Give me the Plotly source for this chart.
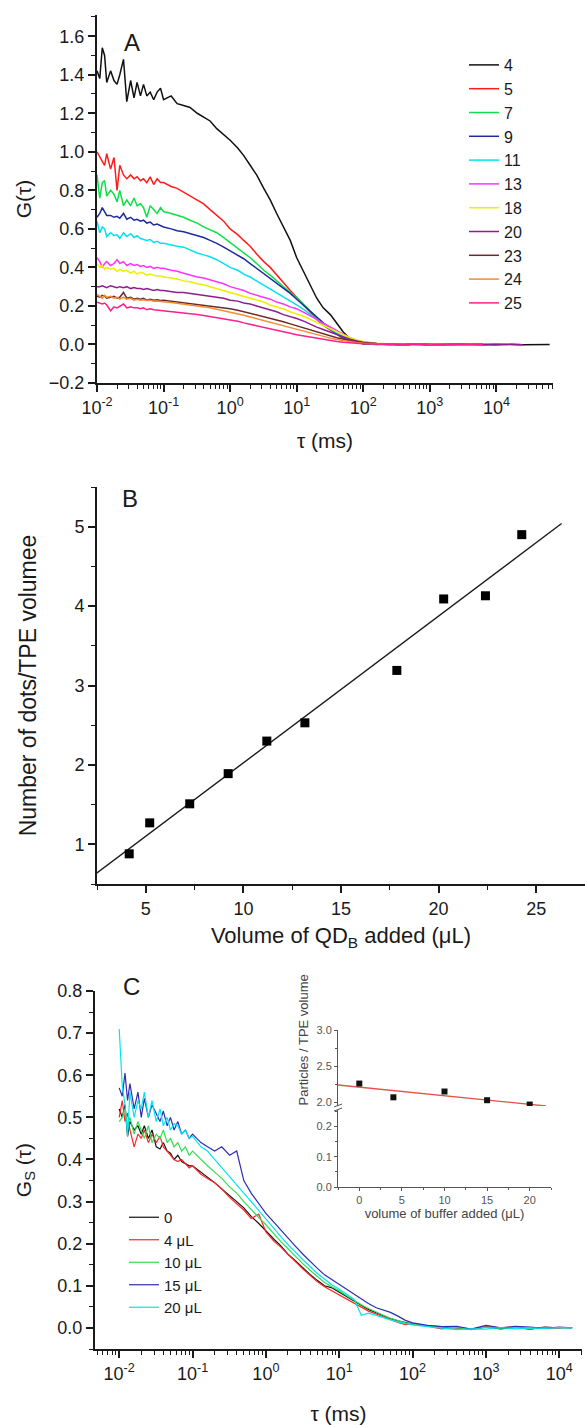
import plotly.graph_objects as go

# ---------------- Panel A data ----------------
tau_A = [0.010, 0.011, 0.012, 0.013, 0.014, 0.016, 0.018, 0.020, 0.022, 0.025,
         0.028, 0.032, 0.036, 0.040, 0.045, 0.050, 0.056, 0.063, 0.071, 0.080,
         0.090, 0.10, 0.13, 0.16, 0.20, 0.25, 0.32, 0.40, 0.50, 0.63,
         0.80, 1.0, 1.3, 1.6, 2.0, 2.5, 3.2, 4.0, 5.0, 6.3,
         8.0, 10, 13, 16, 20, 25, 32, 40, 50, 63,
         80, 100, 160, 250, 400, 630, 1000, 1600, 2500, 4000,
         6300, 10000, 16000, 25000, 40000, 63000]

G_4 = [1.42, 1.38, 1.54, 1.50, 1.36, 1.42, 1.37, 1.35, 1.40, 1.48,
       1.26, 1.37, 1.28, 1.36, 1.29, 1.35, 1.29, 1.31, 1.27, 1.31,
       1.33, 1.27, 1.29, 1.25, 1.24, 1.23, 1.20, 1.18, 1.16, 1.12,
       1.09, 1.06, 1.02, 0.98, 0.93, 0.88, 0.81, 0.75, 0.68, 0.61,
       0.54, 0.45, 0.37, 0.31, 0.24, 0.19, 0.155, 0.11, 0.065, 0.03,
       0.012, 0.004, 0.0, 0.002, -0.004, 0.003, -0.002, 0.002, -0.003, 0.001,
       0.002, -0.001, 0.001, -0.002, 0.0, 0.0]
G_5 = [1.00, 0.97, 0.95, 0.93, 0.99, 0.91, 0.97, 0.80, 0.93, 0.88,
       0.86, 0.88, 0.86, 0.87, 0.85, 0.86, 0.84, 0.87, 0.83, 0.86,
       0.84, 0.84, 0.82, 0.81, 0.79, 0.77, 0.75, 0.73, 0.70, 0.67,
       0.64, 0.60, 0.57, 0.54, 0.51, 0.47, 0.43, 0.40, 0.36, 0.32,
       0.28, 0.245, 0.20, 0.165, 0.13, 0.10, 0.075, 0.05, 0.03, 0.015,
       0.008, 0.004, 0.001, 0.002, -0.003, 0.004, -0.002, 0.003, -0.002, 0.003,
       0.0, None, None, None, None, None]
G_7 = [0.88, 0.76, 0.84, 0.85, 0.77, 0.80, 0.78, 0.74, 0.80, 0.72,
       0.75, 0.72, 0.76, 0.72, 0.73, 0.71, 0.66, 0.72, 0.70, 0.68,
       0.71, 0.69, 0.68, 0.67, 0.66, 0.645, 0.63, 0.61, 0.595, 0.58,
       0.555, 0.53, 0.50, 0.475, 0.45, 0.42, 0.385, 0.36, 0.33, 0.30,
       0.27, 0.245, 0.205, 0.17, 0.14, 0.11, 0.08, 0.055, 0.035, 0.02,
       0.01, 0.005, 0.002, 0.0, 0.003, -0.002, 0.002, -0.001, 0.002, 0.0,
       0.001, 0.0, None, None, None, None]
G_9 = [0.66, 0.68, 0.71, 0.69, 0.67, 0.67, 0.66, 0.665, 0.655, 0.68,
       0.65, 0.66, 0.645, 0.65, 0.64, 0.645, 0.63, 0.635, 0.62, 0.625,
       0.615, 0.61, 0.60, 0.59, 0.585, 0.575, 0.565, 0.555, 0.54, 0.525,
       0.505, 0.485, 0.465, 0.445, 0.42, 0.395, 0.37, 0.345, 0.32, 0.295,
       0.265, 0.235, 0.20, 0.17, 0.14, 0.11, 0.08, 0.055, 0.035, 0.02,
       0.01, 0.005, 0.002, -0.002, 0.003, 0.001, -0.003, 0.002, 0.0, 0.002,
       -0.001, 0.0, None, None, None, None]
G_11 = [0.64, 0.58, 0.61, 0.60, 0.56, 0.58, 0.565, 0.57, 0.55, 0.58,
        0.56, 0.575, 0.555, 0.565, 0.55, 0.545, 0.54, 0.545, 0.53, 0.535,
        0.525, 0.525, 0.515, 0.51, 0.505, 0.49, 0.475, 0.465, 0.455, 0.44,
        0.42, 0.40, 0.385, 0.365, 0.35, 0.33, 0.31, 0.29, 0.27, 0.25,
        0.225, 0.205, 0.18, 0.155, 0.13, 0.105, 0.08, 0.06, 0.04, 0.025,
        0.013, 0.006, 0.003, 0.0, 0.002, -0.002, 0.003, 0.0, -0.002, 0.002,
        0.0, None, None, None, None, None]
G_13 = [0.45, 0.43, 0.40, 0.42, 0.43, 0.41, 0.42, 0.44, 0.42, 0.43,
        0.41, 0.42, 0.41, 0.415, 0.405, 0.41, 0.40, 0.405, 0.395, 0.40,
        0.395, 0.395, 0.385, 0.38, 0.37, 0.36, 0.35, 0.345, 0.335, 0.325,
        0.315, 0.30, 0.29, 0.28, 0.265, 0.255, 0.245, 0.235, 0.22, 0.21,
        0.195, 0.185, 0.165, 0.15, 0.13, 0.11, 0.09, 0.07, 0.05, 0.035,
        0.022, 0.013, 0.005, 0.002, -0.002, 0.003, 0.0, -0.003, 0.002, 0.001,
        -0.002, 0.002, 0.0, -0.001, None, None]
G_18 = [0.42, 0.40, 0.41, 0.39, 0.40, 0.39, 0.395, 0.38, 0.39, 0.38,
        0.385, 0.37, 0.38, 0.365, 0.375, 0.37, 0.36, 0.365, 0.36, 0.355,
        0.355, 0.35, 0.345, 0.34, 0.33, 0.325, 0.315, 0.31, 0.30, 0.29,
        0.28, 0.27, 0.26, 0.25, 0.24, 0.23, 0.22, 0.205, 0.195, 0.185,
        0.17, 0.16, 0.145, 0.13, 0.115, 0.10, 0.083, 0.066, 0.05, 0.035,
        0.023, 0.014, 0.006, 0.002, -0.002, 0.002, 0.0, 0.002, -0.002, 0.001,
        0.0, -0.001, 0.001, None, None, None]
G_20 = [0.30, 0.30, 0.305, 0.30, 0.295, 0.305, 0.30, 0.295, 0.30, 0.295,
        0.30, 0.29, 0.295, 0.29, 0.29, 0.285, 0.29, 0.285, 0.28, 0.285,
        0.28, 0.28, 0.275, 0.27, 0.27, 0.265, 0.26, 0.255, 0.25, 0.245,
        0.24, 0.23, 0.225, 0.215, 0.21, 0.20, 0.19, 0.18, 0.17, 0.155,
        0.145, 0.135, 0.12, 0.105, 0.09, 0.078, 0.065, 0.05, 0.038, 0.027,
        0.018, 0.011, 0.005, 0.002, -0.001, 0.002, -0.002, 0.001, 0.0, 0.002,
        -0.001, 0.001, 0.0, -0.001, None, None]
G_23 = [0.25, 0.245, 0.255, 0.25, 0.24, 0.245, 0.25, 0.24, 0.245, 0.27,
        0.24, 0.245, 0.235, 0.24, 0.235, 0.24, 0.23, 0.235, 0.23, 0.232,
        0.228, 0.23, 0.225, 0.22, 0.218, 0.215, 0.21, 0.205, 0.20, 0.195,
        0.19, 0.185, 0.178, 0.17, 0.163, 0.155, 0.147, 0.138, 0.128, 0.118,
        0.107, 0.097, 0.085, 0.074, 0.064, 0.054, 0.044, 0.035, 0.027, 0.02,
        0.014, 0.009, 0.004, 0.001, -0.002, 0.002, 0.0, -0.002, 0.001, 0.0,
        0.001, None, None, None, None, None]
G_24 = [0.26, 0.25, 0.24, 0.255, 0.245, 0.25, 0.24, 0.245, 0.235, 0.245,
        0.235, 0.24, 0.23, 0.235, 0.23, 0.232, 0.228, 0.23, 0.225, 0.226,
        0.222, 0.222, 0.218, 0.214, 0.21, 0.205, 0.20, 0.195, 0.19, 0.183,
        0.176, 0.168, 0.16, 0.152, 0.143, 0.134, 0.125, 0.115, 0.105, 0.096,
        0.086, 0.077, 0.067, 0.058, 0.049, 0.041, 0.033, 0.026, 0.02, 0.014,
        0.01, 0.006, 0.003, 0.001, -0.002, 0.002, -0.001, 0.001, 0.0, 0.001,
        0.0, None, None, None, None, None]
G_25 = [0.22, 0.215, 0.21, 0.215, 0.205, 0.175, 0.195, 0.19, 0.20, 0.21,
        0.19, 0.195, 0.19, 0.19, 0.185, 0.19, 0.18, 0.185, 0.18, 0.178,
        0.175, 0.177, 0.172, 0.168, 0.163, 0.16, 0.155, 0.15, 0.145, 0.14,
        0.133, 0.127, 0.12, 0.112, 0.105, 0.097, 0.089, 0.081, 0.073, 0.065,
        0.058, 0.05, 0.043, 0.036, 0.03, 0.024, 0.019, 0.015, 0.011, 0.008,
        0.006, 0.004, 0.002, 0.0, -0.002, 0.002, -0.003, 0.001, 0.002, -0.001,
        0.0, None, None, None, None, None]

names_A = ["4", "5", "7", "9", "11", "13", "18", "20", "23", "24", "25"]
series_A = [G_4, G_5, G_7, G_9, G_11, G_13, G_18, G_20, G_23, G_24, G_25]
colors_A = ["#111111", "#ff1c1c", "#0fe04a", "#1f2a9c", "#00e3ef", "#ff33ff",
            "#eeee00", "#8c1f8c", "#6b2b2b", "#f58b32", "#ff1f8f"]

# ---------------- Panel B data ----------------
vol_QD = [4.15, 5.2, 7.25, 9.22, 11.2, 13.15, 17.86, 20.26, 22.4, 24.26]
dots_per_vol = [0.88, 1.27, 1.51, 1.89, 2.30, 2.53, 3.19, 4.09, 4.13, 4.90]
fit_B_x = [2.45, 26.3]
fit_B_y = [0.63, 5.04]

# ---------------- Panel C data ----------------
tau_C = [0.010, 0.011, 0.012, 0.013, 0.014, 0.016, 0.018, 0.020, 0.022, 0.025,
         0.028, 0.032, 0.036, 0.040, 0.045, 0.050, 0.056, 0.063, 0.071, 0.080,
         0.090, 0.10, 0.13, 0.16, 0.20, 0.25, 0.32, 0.40, 0.50, 0.63,
         0.80, 1.0, 1.3, 1.6, 2.0, 2.5, 3.2, 4.0, 5.0, 6.3,
         8.0, 10, 13, 16, 20, 25, 32, 40, 50, 63,
         80, 100, 160, 250, 400, 630, 1000, 1600, 2500, 4000,
         6300, 10000, 15000]
Gs_0 = [0.52, 0.50, 0.53, 0.455, 0.49, 0.47, 0.48, 0.46, 0.48, 0.45,
        0.47, 0.43, 0.425, 0.44, 0.42, 0.415, 0.40, 0.41, 0.395, 0.39,
        0.385, 0.385, 0.37, 0.36, 0.345, 0.33, 0.315, 0.30, 0.285, 0.265,
        0.248, 0.23, 0.21, 0.195, 0.175, 0.16, 0.142, 0.127, 0.113, 0.10,
        0.095, 0.085, 0.072, 0.063, 0.053, 0.044, 0.036, 0.029, 0.022, 0.017,
        0.012, 0.009, 0.005, 0.003, 0.0, -0.003, 0.002, -0.002, 0.001, -0.003,
        0.002, 0.0, 0.001]
Gs_4 = [0.50, 0.54, 0.49, 0.51, 0.47, 0.43, 0.46, 0.45, 0.47, 0.44,
        0.46, 0.44, 0.455, 0.43, 0.42, 0.41, 0.40, 0.395, 0.40, 0.39,
        0.38, 0.385, 0.365, 0.355, 0.345, 0.33, 0.31, 0.295, 0.28, 0.26,
        0.27, 0.228, 0.205, 0.192, 0.175, 0.158, 0.14, 0.125, 0.11, 0.098,
        0.088, 0.079, 0.068, 0.058, 0.049, 0.04, 0.033, 0.026, 0.02, 0.013,
        0.008, 0.01, 0.004, -0.002, 0.001, -0.004, 0.003, 0.0, 0.002, -0.002,
        0.001, 0.0, None]
Gs_10 = [0.49, 0.50, 0.52, 0.48, 0.50, 0.46, 0.49, 0.47, 0.45, 0.48,
         0.44, 0.46, 0.45, 0.47, 0.44, 0.45, 0.43, 0.44, 0.42, 0.43,
         0.41, 0.42, 0.40, 0.385, 0.37, 0.355, 0.335, 0.32, 0.30, 0.28,
         0.262, 0.245, 0.222, 0.205, 0.188, 0.17, 0.152, 0.137, 0.122, 0.108,
         0.097, 0.088, 0.075, 0.065, 0.055, 0.046, 0.037, 0.03, 0.023, 0.017,
         0.012, 0.009, 0.005, 0.003, 0.001, -0.002, 0.002, -0.001, 0.002, -0.002,
         0.001, 0.0, 0.0]
Gs_15 = [0.57, 0.55, 0.605, 0.54, 0.58, 0.52, 0.56, 0.50, 0.545, 0.50,
         0.53, 0.51, 0.49, 0.515, 0.48, 0.50, 0.47, 0.49, 0.46, 0.47,
         0.45, 0.46, 0.44, 0.43, 0.42, 0.43, 0.41, 0.42, 0.35, 0.32,
         0.295, 0.272, 0.25, 0.232, 0.212, 0.195, 0.175, 0.158, 0.142, 0.126,
         0.114, 0.103, 0.09, 0.08, 0.068, 0.058, 0.048, 0.042, 0.037, 0.028,
         0.018, 0.012, 0.006, 0.003, 0.004, -0.003, 0.006, 0.0, 0.004, 0.002,
         -0.001, 0.002, 0.0]
Gs_20 = [0.71, 0.575, 0.53, 0.455, 0.56, 0.50, 0.54, 0.52, 0.56, 0.50,
         0.54, 0.49, 0.52, 0.48, 0.50, 0.47, 0.485, 0.48, 0.46, 0.47,
         0.45, 0.455, 0.43, 0.42, 0.40, 0.38, 0.36, 0.34, 0.32, 0.30,
         0.278, 0.258, 0.235, 0.217, 0.198, 0.18, 0.162, 0.146, 0.13, 0.116,
         0.102, 0.092, 0.079, 0.068, 0.03, 0.035, 0.03, 0.024, 0.019, 0.014,
         0.01, 0.007, 0.003, 0.0, -0.004, -0.002, -0.003, 0.001, -0.002, 0.0,
         -0.001, 0.001, 0.0]

names_C = ["0", "4 \u03bcL", "10 \u03bcL", "15 \u03bcL", "20 \u03bcL"]
series_C = [Gs_0, Gs_4, Gs_10, Gs_15, Gs_20]
colors_C = ["#111111", "#ff2424", "#2fe052", "#2e2eb0", "#00e6f0"]

# ---------------- Inset data ----------------
buffer_vol = [0, 4, 10, 15, 20]
particles = [2.26, 2.07, 2.15, 2.03, 1.97]
fit_I_x = [-2.5, 21.9]
fit_I_y = [2.24, 1.95]

log_tickvals = [0.01, 0.1, 1, 10, 100, 1000, 10000]
log_ticktext = ["10<sup>-2</sup>", "10<sup>-1</sup>", "10<sup>0</sup>", "10<sup>1</sup>",
                "10<sup>2</sup>", "10<sup>3</sup>", "10<sup>4</sup>"]
log_minor = [m * 10.0 ** e for e in range(-3, 5) for m in range(2, 10)]

# ---------------- layout helpers ----------------
W, H = 585, 1425
FONT = "Arial, 'Liberation Sans', sans-serif"
INK = "#1a1a1a"
GREY = "#555555"


def xd(a, b):
    return [a / W, b / W]


def yd(top, bot):
    return [1 - bot / H, 1 - top / H]


def px(x):
    return x / W


def py(y):
    return 1 - y / H


def axis(**kw):
    base = dict(showline=True, linecolor=INK, linewidth=2, ticks="outside",
                tickcolor=INK, tickwidth=1.6, ticklen=7, showgrid=False,
                zeroline=False, mirror=False, automargin=False,
                tickfont=dict(family=FONT, size=18, color=INK))
    base.update(kw)
    return base


def inset_axis(**kw):
    base = dict(showline=True, linecolor=GREY, linewidth=1, ticks="outside",
                tickcolor=GREY, ticklen=3, tickwidth=1, showgrid=False,
                zeroline=False, automargin=False,
                tickfont=dict(family=FONT, size=11, color=GREY))
    base.update(kw)
    return base


fig = go.Figure()

# Panel A
for name, ys, col in zip(names_A, series_A, colors_A):
    fig.add_trace(go.Scatter(x=tau_A, y=ys, mode="lines", name=name,
                             line=dict(color=col, width=1.5),
                             xaxis="x", yaxis="y", legend="legend",
                             connectgaps=False))

# Panel B
fig.add_trace(go.Scatter(x=fit_B_x, y=fit_B_y, mode="lines",
                         line=dict(color=INK, width=1.4), showlegend=False,
                         xaxis="x2", yaxis="y2"))
fig.add_trace(go.Scatter(x=vol_QD, y=dots_per_vol, mode="markers",
                         marker=dict(symbol="square", size=9, color="#000"),
                         showlegend=False, xaxis="x2", yaxis="y2"))

# Panel C
for name, ys, col in zip(names_C, series_C, colors_C):
    fig.add_trace(go.Scatter(x=tau_C, y=ys, mode="lines", name=name,
                             line=dict(color=col, width=1.2),
                             xaxis="x3", yaxis="y3", legend="legend2"))

# Inset (broken y axis: upper part y4, lower part y5)
fig.add_trace(go.Scatter(x=fit_I_x, y=fit_I_y, mode="lines",
                         line=dict(color="#e8504a", width=1.3), showlegend=False,
                         xaxis="x4", yaxis="y4"))
fig.add_trace(go.Scatter(x=buffer_vol, y=particles, mode="markers",
                         marker=dict(symbol="square", size=6, color="#111"),
                         showlegend=False, xaxis="x4", yaxis="y4"))
fig.add_trace(go.Scatter(x=[], y=[], mode="markers", showlegend=False,
                         xaxis="x4", yaxis="y5"))

minor_style = dict(ticks="outside", ticklen=4, tickwidth=1.3, tickcolor=INK)

fig.update_layout(
    width=W, height=H, margin=dict(l=0, r=0, t=0, b=0),
    paper_bgcolor="white", plot_bgcolor="rgba(0,0,0,0)",
    font=dict(family=FONT, color=INK),
    xaxis=axis(type="log", domain=xd(97, 553), range=[-2, 4.85], anchor="y",
               tickvals=log_tickvals, ticktext=log_ticktext,
               minor=dict(tickvals=log_minor, **minor_style),
               title=dict(text="\u03c4 (ms)", font=dict(size=21, family=FONT, color=INK), standoff=17)),
    yaxis=axis(domain=yd(15, 383), range=[-0.2, 1.71], anchor="x",
               tickvals=[-0.2, 0, 0.2, 0.4, 0.6, 0.8, 1.0, 1.2, 1.4, 1.6],
               tickformat=".1f",
               minor=dict(dtick=0.1, tick0=0, **minor_style),
               title=dict(text="G(\u03c4)", font=dict(size=21, family=FONT, color=INK), standoff=12)),
    xaxis2=axis(domain=xd(97, 585), range=[2.5, 27.5], anchor="y2",
                tickvals=[5, 10, 15, 20, 25],
                minor=dict(dtick=2.5, tick0=0, **minor_style),
                title=dict(text="Volume of QD<sub>B</sub> added (\u03bcL)",
                           font=dict(size=22, family=FONT, color=INK), standoff=10)),
    yaxis2=axis(domain=yd(487, 884), range=[0.5, 5.5], anchor="x2",
                tickvals=[1, 2, 3, 4, 5],
                minor=dict(dtick=0.5, tick0=0, **minor_style),
                title=dict(text="Number of dots/TPE volumee",
                           font=dict(size=23, family=FONT, color=INK), standoff=31)),
    xaxis3=axis(type="log", domain=xd(95, 582), range=[-2.33, 4.31], anchor="y3",
                tickvals=log_tickvals, ticktext=log_ticktext,
                minor=dict(tickvals=log_minor, **minor_style),
                title=dict(text="\u03c4 (ms)", font=dict(size=21, family=FONT, color=INK), standoff=30)),
    yaxis3=axis(domain=yd(991, 1349), range=[-0.05, 0.8], anchor="x3",
                tickvals=[0, 0.1, 0.2, 0.3, 0.4, 0.5, 0.6, 0.7, 0.8], tickformat=".1f",
                minor=dict(dtick=0.05, tick0=0, **minor_style),
                title=dict(text="G<sub>S</sub> (\u03c4)", font=dict(size=21, family=FONT, color=INK), standoff=20)),
    xaxis4=inset_axis(domain=xd(338, 551), range=[-2.5, 22.5], anchor="y5",
                      tickvals=[0, 5, 10, 15, 20],
                      minor=dict(dtick=2.5, tick0=0, ticks="outside", ticklen=2, tickcolor=GREY),
                      title=dict(text="volume of buffer added (\u03bcL)",
                                 font=dict(size=13, family=FONT, color="#444"), standoff=3)),
    yaxis4=inset_axis(domain=yd(1030, 1106), range=[1.95, 3.0], anchor="x4",
                      tickvals=[2.0, 2.5, 3.0], tickformat=".1f",
                      minor=dict(dtick=0.25, tick0=0, ticks="outside", ticklen=2, tickcolor=GREY)),
    yaxis5=inset_axis(domain=yd(1110, 1187), range=[0, 0.255], anchor="x4",
                      tickvals=[0, 0.1, 0.2], tickformat=".1f",
                      minor=dict(dtick=0.05, tick0=0, ticks="outside", ticklen=2, tickcolor=GREY)),
    legend=dict(x=px(464), y=py(48), xanchor="left", yanchor="top",
                bgcolor="rgba(0,0,0,0)", font=dict(family=FONT, size=16, color=INK),
                tracegroupgap=0, borderwidth=0),
    legend2=dict(x=px(124), y=py(1201), xanchor="left", yanchor="top",
                 bgcolor="rgba(0,0,0,0)", font=dict(family=FONT, size=15, color=INK),
                 tracegroupgap=0, borderwidth=0),
    annotations=[
        dict(text="A", x=px(122), y=py(27), xref="paper", yref="paper",
             showarrow=False, font=dict(family=FONT, size=24, color=INK)),
        dict(text="B", x=px(120), y=py(498), xref="paper", yref="paper",
             showarrow=False, font=dict(family=FONT, size=24, color=INK)),
        dict(text="C", x=px(121), y=py(1002), xref="paper", yref="paper",
             showarrow=False, font=dict(family=FONT, size=24, color=INK)),
        dict(text="Particles / TPE volume", x=px(303), y=py(1108), xref="paper",
             yref="paper", showarrow=False, textangle=-90,
             font=dict(family=FONT, size=13, color="#444")),
    ],
    shapes=[
        dict(type="line", xref="paper", yref="paper", x0=px(334), y0=py(1107),
             x1=px(342), y1=py(1104), line=dict(color=GREY, width=1)),
        dict(type="line", xref="paper", yref="paper", x0=px(334), y0=py(1111),
             x1=px(342), y1=py(1108), line=dict(color=GREY, width=1)),
    ],
)

fig.write_html("out.html")
